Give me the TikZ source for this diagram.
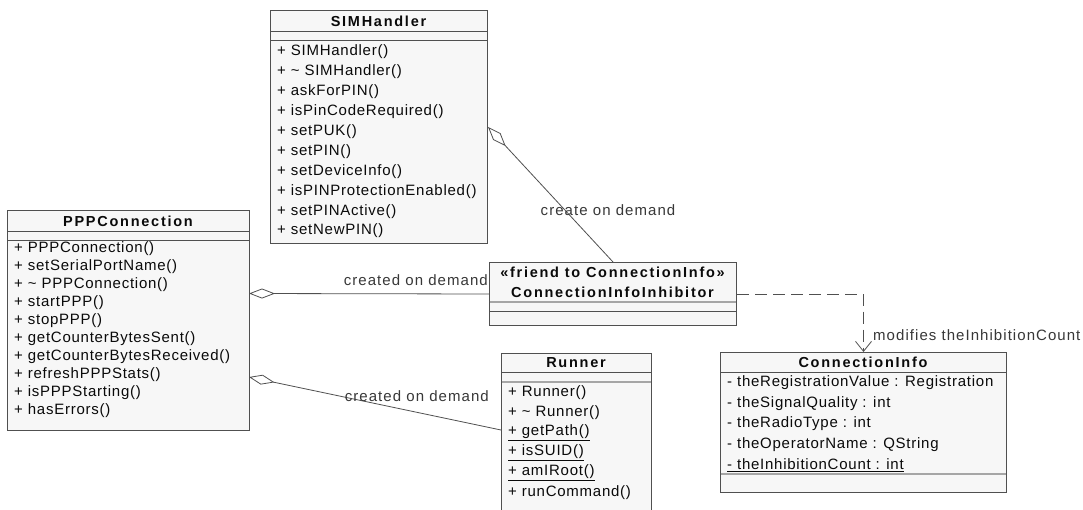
\documentclass[tikz,border=0pt]{standalone}
\usepackage{fontspec}
\setmainfont{Liberation Sans}
\newfontfamily\bodyf[LetterSpace=5]{Liberation Sans}
\newfontfamily\titlef[LetterSpace=12]{Liberation Sans}
\newfontfamily\lblf[LetterSpace=7]{Liberation Sans}
\usetikzlibrary{arrows.meta}
\definecolor{linec}{HTML}{505050}
\definecolor{boxfill}{HTML}{F7F7F7}
\definecolor{txtc}{HTML}{0A0A0A}
\definecolor{lblc}{HTML}{383838}
\tikzset{
  cls/.style={draw=linec, fill=boxfill, line width=1pt, inner sep=0pt, anchor=north west},
  sepline/.style={draw=linec, line width=0.8pt},
  mtxt/.style={anchor=west, inner sep=0pt, font=\bodyf\fontsize{15}{17}\selectfont, text=txtc},
  ttl/.style={anchor=center, inner sep=0pt, font=\titlef\bfseries\fontsize{14.5}{17}\selectfont, text=txtc},
  lbl/.style={inner sep=0pt, font=\lblf\fontsize{15}{17}\selectfont, text=lblc},
  agg/.style={{Diamond[open,length=26pt,width=10pt]}-, draw=linec, line width=0.8pt},
  dep/.style={-{Straight Barb[length=10pt,width=16pt]}, draw=linec, line width=0.8pt, dash pattern=on 12pt off 6pt}
}
\begin{document}
\begin{tikzpicture}[x=1pt,y=-1pt]
\useasboundingbox[fill=white] (0,0) rectangle (1083,510);

% SIMHandler
\node[cls, minimum width=217pt, minimum height=233pt] (sim) at (270,10) {};
\node[ttl] (simt) at (378.5,21) {SIMHandler};
\draw[sepline] (270,31) -- (487,31);
\draw[sepline] (270,40) -- (487,40);
\foreach \t [count=\i from 0] in {+ SIMHandler(), + \textasciitilde\ SIMHandler(), + askForPIN(), + isPinCodeRequired(), + setPUK(), + setPIN(), + setDeviceInfo(), + isPINProtectionEnabled(), + setPINActive(), + setNewPIN()}
  \node[mtxt] (simm\i) at (277,{52+19.9*\i}) {\t};

% PPPConnection
\node[cls, minimum width=242pt, minimum height=220pt] (ppp) at (7,210) {};
\node[ttl] (pppt) at (128,221) {PPPConnection};
\draw[sepline] (7,231) -- (249,231);
\draw[sepline] (7,240) -- (249,240);
\foreach \t [count=\i from 0] in {+ PPPConnection(), + setSerialPortName(), + \textasciitilde\ PPPConnection(), + startPPP(), + stopPPP(), + getCounterBytesSent(), + getCounterBytesReceived(), + refreshPPPStats(), + isPPPStarting(), + hasErrors()}
  \node[mtxt] (pppm\i) at (14,{249+18*\i}) {\t};

% ConnectionInfoInhibitor
\node[cls, minimum width=247pt, minimum height=63pt] (inh) at (489,262) {};
\node[ttl] (inht1) at (612.5,272) {«friend to ConnectionInfo»};
\node[ttl] (inht2) at (612.5,292) {ConnectionInfoInhibitor};
\draw[sepline, draw=gray!70, line width=1.4pt] (489.5,302) -- (735.5,302);
\draw[sepline] (489,311) -- (736,311);

% Runner
\node[cls, minimum width=150pt, minimum height=170pt] (run) at (501,353) {};
\node[ttl] (runt) at (576,363) {Runner};
\draw[sepline] (501,372) -- (651,372);
\draw[sepline, draw=gray!70, line width=1.4pt] (501.5,382) -- (650.5,382);
\foreach \t [count=\i from 0] in {+ Runner(), + \textasciitilde\ Runner(), \underline{+ getPath()}, \underline{+ isSUID()}, \underline{+ amIRoot()}, + runCommand()}
  \node[mtxt] (runm\i) at (508,{393+20*\i}) {\t};

% ConnectionInfo
\node[cls, minimum width=286pt, minimum height=140pt] (ci) at (720,352) {};
\node[ttl] (cit) at (863,362) {ConnectionInfo};
\draw[sepline] (720,372) -- (1006,372);
\draw[sepline, draw=gray!70, line width=1.4pt] (720.5,474) -- (1005.5,474);
\foreach \t [count=\i from 0] in {- theRegistrationValue : Registration, - theSignalQuality : int, - theRadioType : int, - theOperatorName : QString, \underline{- theInhibitionCount : int}}
  \node[mtxt] (cim\i) at (727,{383+20.5*\i}) {\t};

% connectors
\coordinate (pppA) at (249,293.5);
\coordinate (pppB) at (249,377);
\coordinate (runW) at (501,430);
\draw[agg] (sim.east) -- (inh.north);
\draw[agg] (pppA) -- (inh.west);
\draw[agg] (pppB) -- (runW);
\draw[dep] (inh.east) -| (ci.north);

% labels
\node[lbl] (l1) at (608,210) {create on demand};
\node[lbl, anchor=east] (l2) at (488,280) {created on demand};
\node[lbl, anchor=east] (l3) at (489,396) {created on demand};
\node[lbl, anchor=west] (l4) at (873,335) {modifies theInhibitionCount};
\end{tikzpicture}
\end{document}
